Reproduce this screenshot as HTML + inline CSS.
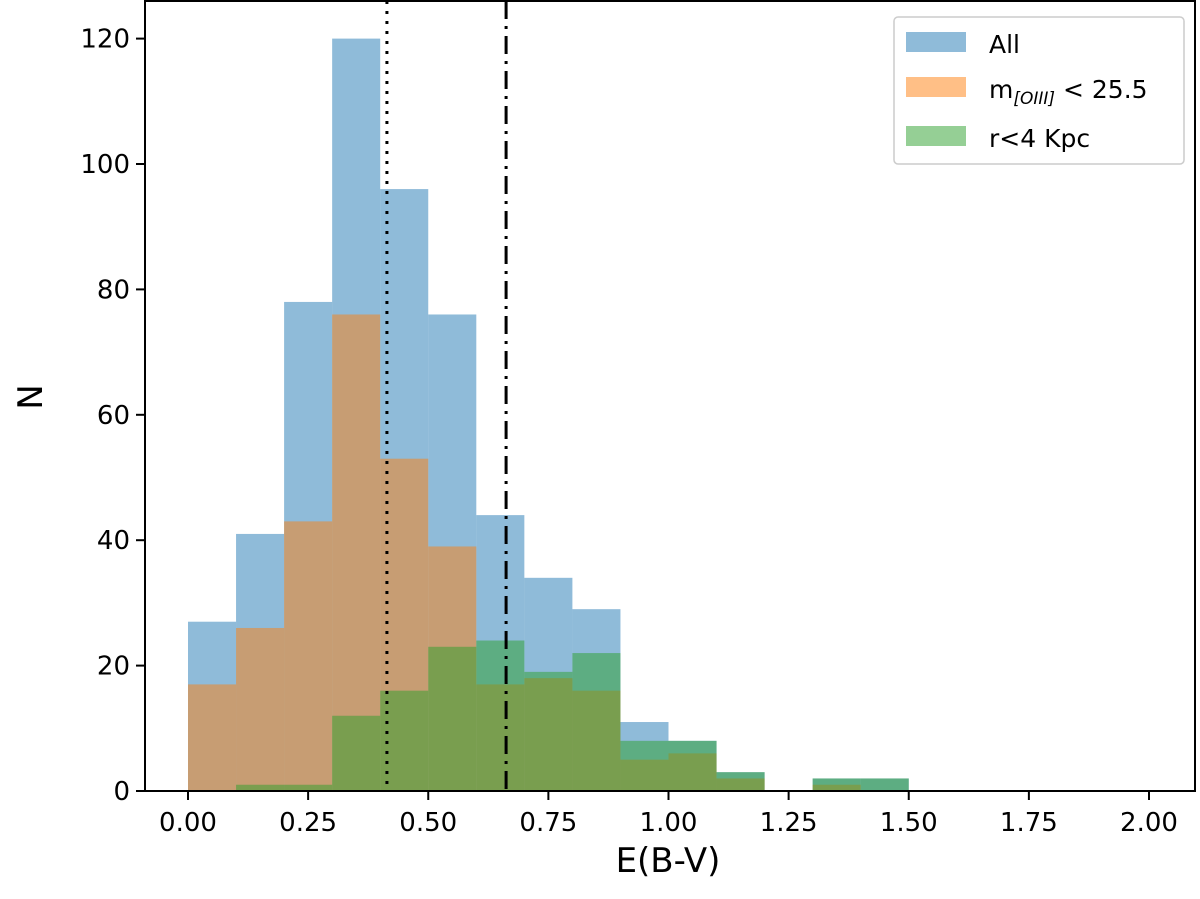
<!DOCTYPE html>
<html><head><meta charset="utf-8"><style>
body{margin:0;background:#fff}
svg{display:block;font-family:"DejaVu Sans","Liberation Sans",sans-serif}
</style></head><body>
<svg id="chart" width="1200" height="899"></svg>
<script>
const binEdgesStart = [0,0.1,0.2,0.3,0.4,0.5,0.6,0.7,0.8,0.9,1.0,1.1,1.2,1.3,1.4];
const allCounts = [27,41,78,120,96,76,44,34,29,11,8,3,0,2,2];
const oiiiCounts = [17,26,43,76,53,39,17,18,16,5,6,2,0,1,0];
const r4Counts = [0,1,1,12,16,23,24,19,22,8,8,3,0,2,2];
const xTicks = ["0.00","0.25","0.50","0.75","1.00","1.25","1.50","1.75","2.00"];
const yTicks = [0,20,40,60,80,100,120];
const dottedLineX = 0.414;
const dashDotLineX = 0.662;
const binWidth = 0.1;

const NS="http://www.w3.org/2000/svg";
const svg=document.getElementById('chart');
const L=145,R=1195,T=1,B=791;
const X=v=>188+v*480.5;
const Y=v=>B-v*6.27;
function mk(tag,attrs,parent){const e=document.createElementNS(NS,tag);for(const k in attrs)e.setAttribute(k,attrs[k]);(parent||svg).appendChild(e);return e;}

const series=[[allCounts,'#1f77b4','bars-all'],[oiiiCounts,'#ff7f0e','bars-oiii'],[r4Counts,'#2ca02c','bars-r4kpc']];
series.forEach(([vals,col,name])=>{
  const g=mk('g',{});
  
  
  vals.forEach((v,i)=>{
    if(v<=0)return;
    const x0=X(binEdgesStart[i]),x1=X(binEdgesStart[i]+binWidth);
    const r=mk('rect',{x:x0,y:Y(v),width:x1-x0,height:Y(0)-Y(v),fill:col,'fill-opacity':0.5},g);
    
    
  });
});
const l1=mk('line',{x1:X(dottedLineX),x2:X(dottedLineX),y1:T,y2:B,stroke:'#000','stroke-width':3,'stroke-dasharray':'3 7'});


const l2=mk('line',{x1:X(dashDotLineX),x2:X(dashDotLineX),y1:T,y2:B,stroke:'#000','stroke-width':3,'stroke-dasharray':'18 7 3 7'});



const frame=mk('rect',{x:L,y:T,width:R-L,height:B-T,fill:'none',stroke:'#000','stroke-width':2});



xTicks.forEach(t=>{
  const x=X(parseFloat(t));
  mk('line',{x1:x,x2:x,y1:B,y2:B+9,stroke:'#000','stroke-width':2});
  const tx=mk('text',{x:x,y:B+40,'text-anchor':'middle','font-size':26});
  tx.textContent=t;
  
  
});
yTicks.forEach(t=>{
  const y=Y(t);
  mk('line',{x1:L-9,x2:L,y1:y,y2:y,stroke:'#000','stroke-width':2});
  const tx=mk('text',{x:L-15,y:y+9,'text-anchor':'end','font-size':26});
  tx.textContent=t;
  
  
});
</script>
<svg width="1200" height="899" style="position:absolute;left:0;top:0">
<text x="668" y="872" text-anchor="middle" font-size="34" font-family="DejaVu Sans,Liberation Sans,sans-serif">E(B-V)</text>
<text transform="translate(42,397) rotate(-90)" text-anchor="middle" font-size="34" font-family="DejaVu Sans,Liberation Sans,sans-serif">N</text>
<g font-family="DejaVu Sans,Liberation Sans,sans-serif">
<rect x="894" y="17" width="290" height="147" rx="4" fill="#fff" fill-opacity="0.8" stroke="#ccc" stroke-width="1.5"/>
<rect x="906" y="32" width="60" height="20" fill="#1f77b4" fill-opacity="0.5"/>
<text x="989" y="53" font-size="25">All</text>
<rect x="906" y="77" width="60" height="20" fill="#ff7f0e" fill-opacity="0.5"/>
<text x="989" y="98" font-size="25">m<tspan font-size="17" font-style="italic" dy="6">[OIII]</tspan><tspan dy="-6"> &lt; 25.5</tspan></text>
<rect x="906" y="126" width="60" height="20" fill="#2ca02c" fill-opacity="0.5"/>
<text x="989" y="147" font-size="25">r&lt;4 Kpc</text>
</g>
</svg>
</body></html>
